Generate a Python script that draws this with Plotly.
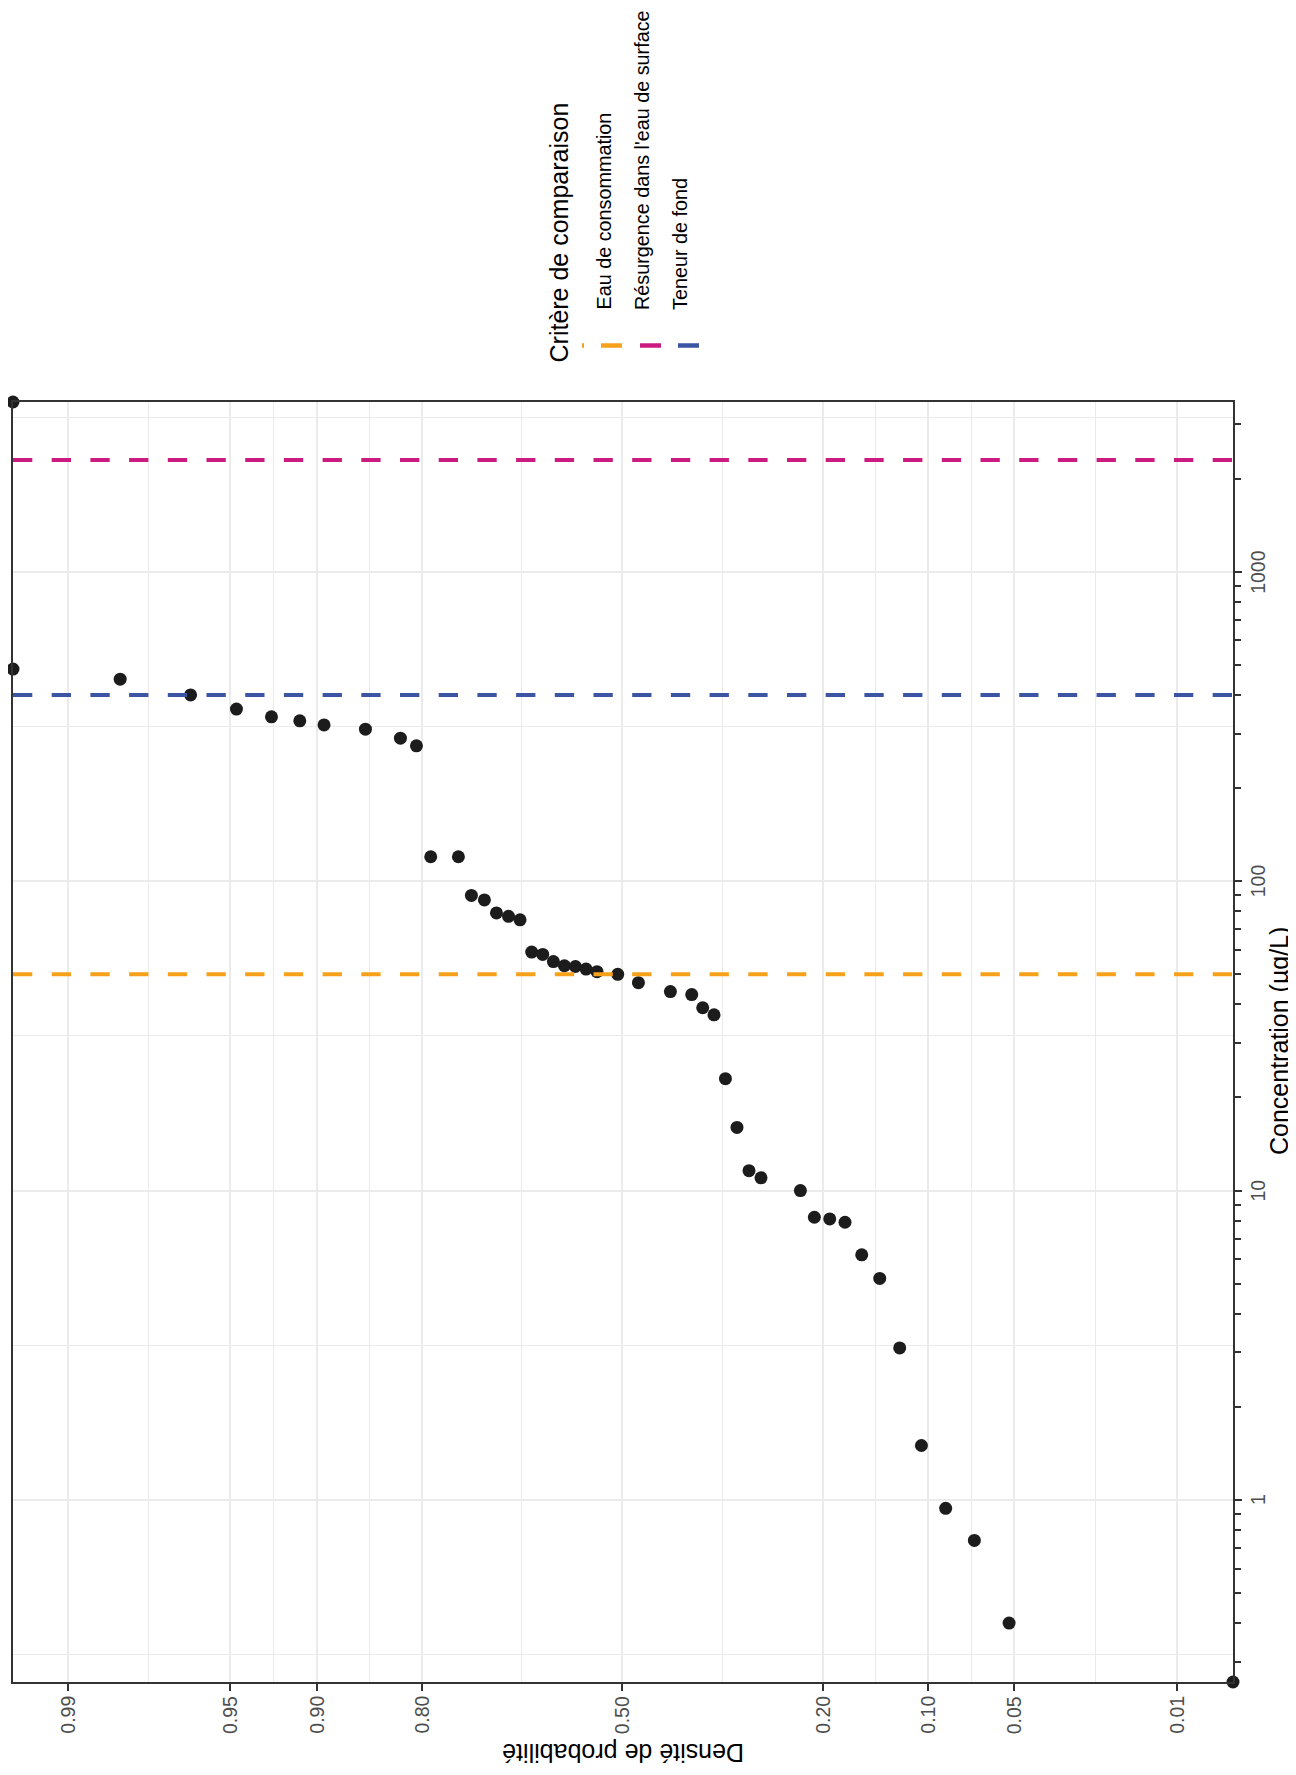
import math
from statistics import NormalDist
import plotly.graph_objects as go

# ---------------- data ----------------
prob = [0.9947, 0.9947, 0.9824, 0.9649, 0.9472, 0.9294, 0.9119, 0.8945, 0.8593, 0.8239, 0.8060,
        0.7891, 0.7540, 0.7365, 0.7184, 0.7011, 0.6833, 0.6659, 0.6479, 0.6306, 0.6136, 0.5958,
        0.5778, 0.5603, 0.5421, 0.5075, 0.4729, 0.4199, 0.3853, 0.3678, 0.3501, 0.3325, 0.3151,
        0.2974, 0.2802, 0.2274, 0.2101, 0.1920, 0.1750, 0.1575, 0.1400, 0.1222, 0.1047, 0.0874,
        0.0698, 0.0523, 0.0052]
conc = [3540, 485, 450, 400, 360, 340, 330, 320, 310, 290, 274,
        120, 120, 90, 87, 79, 77, 75, 59, 58, 55, 53.3,
        53, 52, 51, 50, 47, 44, 43, 39, 37, 23, 16,
        11.6, 11.0, 10.0, 8.2, 8.1, 7.9, 6.2, 5.2, 3.1, 1.5, 0.94,
        0.74, 0.40, 0.258]

criteria_names = ["Eau de consommation", "Résurgence dans l'eau de surface", "Teneur de fond"]
criteria_values = [50, 2300, 400]
criteria_colors = ["#F7A11A", "#CB1B80", "#3B54A4"]
legend_title = "Critère de comparaison"

prob_ticks = [0.99, 0.95, 0.90, 0.80, 0.50, 0.20, 0.10, 0.05, 0.01]
prob_labels = ["0.99", "0.95", "0.90", "0.80", "0.50", "0.20", "0.10", "0.05", "0.01"]
conc_ticks = [1, 10, 100, 1000]
conc_labels = ["1", "10", "100", "1000"]

x_title = "Densité de probabilité"
y_title = "Concentration (µg/L)"

# ---------------- scales ----------------
nd = NormalDist()
probit = nd.inv_cdf

z = [probit(p) for p in prob]
x_hi = probit(max(prob))
x_lo = probit(min(prob))
y_lo = math.log10(min(conc))
y_hi = math.log10(max(conc))

z_ticks = [probit(p) for p in prob_ticks]
z_minor = [(a + b) / 2 for a, b in zip(z_ticks[:-1], z_ticks[1:])]

log_minor_grid = [10 ** (k + 0.5) for k in range(-1, 4)]
log_minor_ticks = [m * 10 ** k for k in range(-1, 4) for m in range(2, 10)]

# ---------------- layout geometry (screen pixels; page body has an 8px margin) ----------------
OFF = 8
SW, SH = 1296, 1775
FW, FH = SW - OFF, SH - OFF
L, R, T, B = 13, 1233, 402, 1682          # panel in screen pixels
PW, PH = R - L, B - T


def paper(X, Y):
    return (X - L) / PW, (B - Y) / PH


FONT = "Liberation Sans, Arial, Helvetica, sans-serif"
DARK = "#333333"
GRID = "#EBEBEB"
TICKCOL = "#4D4D4D"
TICKSIZE = 19.5

fig = go.Figure()

fig.add_trace(go.Scatter(
    x=z, y=conc, mode="markers",
    marker=dict(size=13, color="#1c1c1c", line=dict(width=0)),
    cliponaxis=False, showlegend=False, hoverinfo="skip",
))

for name, val, col in zip(criteria_names, criteria_values, criteria_colors):
    fig.add_trace(go.Scatter(
        x=[x_hi, x_lo], y=[val, val], mode="lines",
        line=dict(color=col, width=4, dash="19.3px,19.4px"),
        xaxis="x", yaxis="y2", showlegend=False, hoverinfo="skip", name=name,
    ))

fig.update_layout(
    width=FW, height=FH,
    margin=dict(l=L - OFF, r=SW - R, t=T - OFF, b=SH - B, pad=0, autoexpand=False),
    paper_bgcolor="white", plot_bgcolor="white",
    font=dict(family=FONT, color="#000000"),
    showlegend=False,
    xaxis=dict(
        range=[x_hi, x_lo],
        tickvals=z_ticks, showticklabels=False,
        ticks="outside", ticklen=7, tickwidth=2, tickcolor=DARK,
        showline=True, linecolor=DARK, linewidth=2, mirror=True,
        showgrid=True, gridcolor=GRID, gridwidth=2, zeroline=False,
        minor=dict(tickvals=z_minor, showgrid=True, gridcolor=GRID, gridwidth=1, ticks=""),
    ),
    yaxis=dict(
        type="log", range=[y_lo, y_hi], side="right",
        tickvals=conc_ticks, showticklabels=False,
        ticks="outside", ticklen=7, tickwidth=2, tickcolor=DARK,
        showline=True, linecolor=DARK, linewidth=2, mirror=True,
        showgrid=True, gridcolor=GRID, gridwidth=2, zeroline=False,
        minor=dict(tickvals=log_minor_grid, showgrid=True, gridcolor=GRID, gridwidth=1, ticks=""),
    ),
    yaxis2=dict(
        type="log", range=[y_lo, y_hi], side="right", overlaying="y", anchor="x",
        tickvals=log_minor_ticks, showticklabels=False,
        ticks="outside", ticklen=7, tickwidth=2, tickcolor=DARK,
        showline=False, showgrid=False, zeroline=False,
    ),
)

annotations = []
shapes = []

# tick labels (rotated, like the reference)
_, y_lab = paper(0, 1694)
for zt, lab in zip(z_ticks, prob_labels):
    annotations.append(dict(x=zt, y=y_lab, xref="x", yref="paper", text=lab, showarrow=False,
                            textangle=-90, xanchor="center", yanchor="top",
                            font=dict(size=TICKSIZE, color=TICKCOL, family=FONT)))
x_lab, _ = paper(1245, 0)
for ct, lab in zip(conc_ticks, conc_labels):
    annotations.append(dict(x=x_lab, y=math.log10(ct), xref="paper", yref="y", text=lab,
                            showarrow=False, textangle=-90, xanchor="left", yanchor="middle",
                            font=dict(size=TICKSIZE, color=TICKCOL, family=FONT)))

# axis titles (rotated like the reference)
ax, ay = paper(1279, 1041)
annotations.append(dict(x=ax, y=ay, xref="paper", yref="paper", text=y_title, showarrow=False,
                        textangle=-90, xanchor="center", yanchor="middle",
                        font=dict(size=25, color="#000000", family=FONT)))
ax, ay = paper(623, 1753)
annotations.append(dict(x=ax, y=ay, xref="paper", yref="paper", text=x_title, showarrow=False,
                        textangle=180, xanchor="center", yanchor="middle",
                        font=dict(size=25, color="#000000", family=FONT)))

# legend (rotated)
ax, ay = paper(558, 364.5)
annotations.append(dict(x=ax, y=ay, xref="paper", yref="paper", text=legend_title, showarrow=False,
                        textangle=-90, xanchor="center", yanchor="bottom",
                        font=dict(size=25, color="#000000", family=FONT)))
item_x = [603, 642, 680]
for name, col, X in zip(criteria_names, criteria_colors, item_x):
    ax, ay = paper(X, 312)
    annotations.append(dict(x=ax, y=ay, xref="paper", yref="paper", text=name, showarrow=False,
                            textangle=-90, xanchor="center", yanchor="bottom",
                            font=dict(size=19.8, color="#000000", family=FONT)))
    x0, y0 = paper(X - 2, 345.5)
    x1, _ = paper(X + 19, 345.5)
    shapes.append(dict(type="line", xref="paper", yref="paper", x0=x0, x1=x1, y0=y0, y1=y0,
                       line=dict(color=col, width=4.5)))
x0, y0 = paper(582, 345.5)
x1, _ = paper(584, 345.5)
shapes.append(dict(type="line", xref="paper", yref="paper", x0=x0, x1=x1, y0=y0, y1=y0,
                   line=dict(color=criteria_colors[0], width=4.5)))

fig.update_layout(annotations=annotations, shapes=shapes)

fig.write_html("out.html")
